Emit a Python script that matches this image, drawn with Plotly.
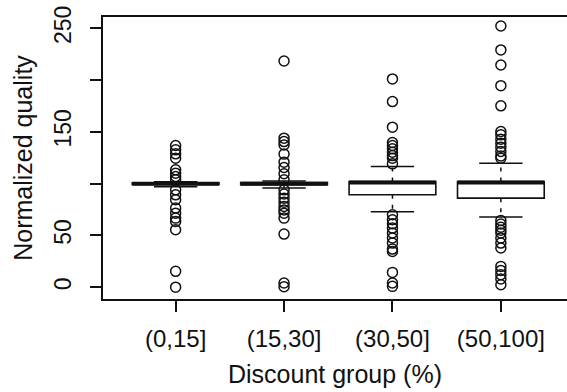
import plotly.graph_objects as go

categories = ["(0,15]", "(15,30]", "(30,50]", "(50,100]"]
q1 = [99.3, 99.0, 89.2, 86.0]
medians = [100.0, 100.0, 101.0, 101.0]
q3 = [100.7, 101.0, 102.0, 102.0]
lower_whisker = [97.0, 95.7, 72.8, 67.7]
upper_whisker = [101.8, 102.5, 116.5, 119.8]

outliers_g1 = [136.8, 132.6, 128.8, 124.6, 113.3, 110.1, 106.9, 103.7,
               94.0, 89.2, 84.4, 76.4, 71.5, 66.7, 63.5, 55.5, 15.3, 0.0]
outliers_g2 = [218.4, 143.9, 140.6, 137.4, 128.5, 120.7, 115.6, 109.5, 103.7,
               94.0, 90.0, 86.0, 82.0, 78.0, 74.5, 71.5, 66.7, 51.3, 4.0, 0.5]
outliers_g3 = [201.1, 179.2, 154.5, 139.7, 136.8, 133.6, 130.4, 127.1, 124.6, 119.1,
               69.9, 65.1, 61.2, 57.1, 52.3, 47.5, 42.6, 36.8, 34.5, 14.3, 4.0, 0.8]
outliers_g4 = [252.2, 229.1, 214.6, 194.6, 175.1, 150.3, 147.1, 142.9, 139.0, 135.2,
               131.0, 126.8, 124.6, 64.5, 61.0, 58.0, 55.0, 52.3, 47.5, 42.6, 37.8,
               20.1, 16.2, 12.1, 7.9, 2.4]
outliers = [outliers_g1, outliers_g2, outliers_g3, outliers_g4]

y_tickvals = [0, 50, 100, 150, 200, 250]
y_ticktext = ["0", "50", "", "150", "", "250"]

INK = "#111111"
BOX_W = 0.8
STAPLE_HALF = 0.2
FONT = "Liberation Sans, Arial, Helvetica, sans-serif"

fig = go.Figure()

for i, cat in enumerate(categories):
    # box body (no whiskers)
    fig.add_trace(go.Box(
        x=[i], q1=[q1[i]], median=[medians[i]], q3=[q3[i]],
        lowerfence=[q1[i]], upperfence=[q3[i]],
        width=BOX_W, whiskerwidth=0, fillcolor="white",
        line=dict(color=INK, width=1.6), boxpoints=False,
        showlegend=False, hoverinfo="skip"))
    # dashed whiskers
    fig.add_trace(go.Scatter(
        x=[i, i, None, i, i],
        y=[q3[i], upper_whisker[i], None, q1[i], lower_whisker[i]],
        mode="lines", line=dict(color=INK, width=1.5, dash="4px,6px"),
        showlegend=False, hoverinfo="skip"))
    # staples
    fig.add_trace(go.Scatter(
        x=[i - STAPLE_HALF, i + STAPLE_HALF, None, i - STAPLE_HALF, i + STAPLE_HALF],
        y=[upper_whisker[i], upper_whisker[i], None, lower_whisker[i], lower_whisker[i]],
        mode="lines", line=dict(color=INK, width=1.5),
        showlegend=False, hoverinfo="skip"))
    # median
    fig.add_trace(go.Scatter(
        x=[i - BOX_W / 2, i + BOX_W / 2], y=[medians[i], medians[i]],
        mode="lines", line=dict(color=INK, width=4),
        showlegend=False, hoverinfo="skip"))
    # outliers
    fig.add_trace(go.Scatter(
        x=[i] * len(outliers[i]), y=outliers[i], mode="markers",
        marker=dict(symbol="circle-open", size=10, color=INK, line=dict(width=1.5)),
        showlegend=False, hoverinfo="skip"))

fig.update_layout(
    width=567, height=392,
    margin=dict(l=103, r=0, t=17, b=93),
    paper_bgcolor="white", plot_bgcolor="white",
    font=dict(family=FONT, color=INK),
    boxmode="overlay",
    xaxis=dict(
        range=[-0.67, 3.61], tickmode="array",
        tickvals=list(range(len(categories))), ticktext=categories,
        showline=True, linecolor=INK, linewidth=1.5, mirror=True,
        ticks="outside", ticklen=11, tickwidth=1.5, tickcolor=INK,
        ticklabelstandoff=6,
        showgrid=False, zeroline=False,
        tickfont=dict(size=24, family=FONT, color=INK),
        title=dict(text="Discount group (%)", font=dict(size=25, family=FONT, color=INK),
                   standoff=15),
    ),
    yaxis=dict(
        range=[-11.4, 260.9], tickmode="array",
        tickvals=y_tickvals, ticktext=y_ticktext, tickangle=-90,
        showline=True, linecolor=INK, linewidth=1.5, mirror=False,
        ticks="outside", ticklen=11, tickwidth=1.5, tickcolor=INK,
        ticklabelstandoff=10,
        showgrid=False, zeroline=False,
        tickfont=dict(size=23, family=FONT, color=INK),
        title=dict(text="Normalized quality", font=dict(size=25, family=FONT, color=INK),
                   standoff=10),
    ),
)

fig.write_html("out.html")
